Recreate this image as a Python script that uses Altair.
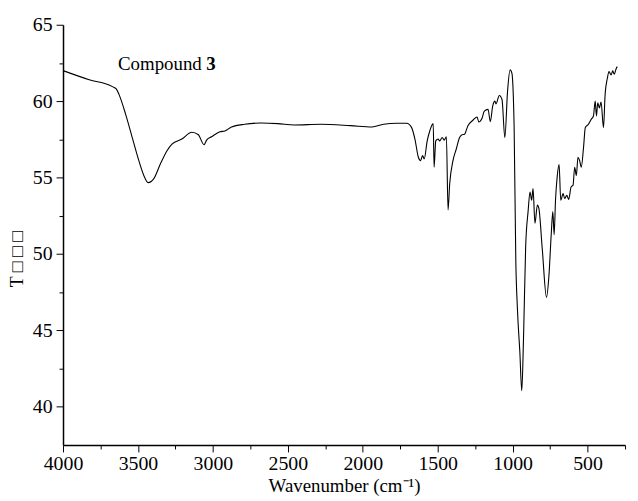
import altair as alt
import pandas as pd

wavenumber = [4000, 3825, 3670, 3645, 3626, 3582, 3538, 3494, 3461, 3432, 3394, 3350, 3306, 3273,
              3207, 3141, 3097, 3059, 3042, 3009, 2953, 2920, 2876, 2788, 2678, 2567, 2457, 2281,
              2082, 1938, 1861, 1773, 1707, 1674, 1652, 1629, 1614, 1601, 1590, 1570, 1553, 1530,
              1524, 1513, 1497, 1487, 1470, 1457, 1442, 1431, 1420, 1398, 1376, 1354, 1338, 1321,
              1299, 1265, 1237, 1226, 1204, 1189, 1164, 1149, 1133, 1118, 1111, 1089, 1071, 1052,
              1034, 1017, 1005, 990, 979, 968, 952, 939, 928, 913, 897, 884, 873, 864, 851, 835,
              825, 802, 774, 758, 742, 732, 723, 714, 703, 690, 679, 663, 653, 639, 626, 610, 597,
              586, 575, 564, 553, 542, 527, 515, 494, 476, 461, 449, 441, 432, 421, 410, 394, 383,
              368, 357, 343, 332, 322, 310, 302]
transmittance = [62.0, 61.4, 60.95, 60.8, 60.43, 59.14, 57.62, 56.11, 55.14, 54.67, 54.93, 55.9, 56.76, 57.19,
                 57.52, 57.97, 57.8, 57.15, 57.45, 57.67, 58.0, 58.05, 58.31, 58.49, 58.57, 58.53, 58.44, 58.49,
                 58.4, 58.31, 58.49, 58.55, 58.55, 58.27, 57.52, 56.33, 56.11, 56.44, 56.22, 57.4, 58.05, 58.53,
                 55.68, 57.4, 57.52, 57.4, 57.62, 57.45, 57.67, 52.88, 54.6, 56.11, 56.87, 57.62, 57.8, 57.84,
                 58.38, 58.75, 58.96, 58.64, 58.88, 59.35, 59.46, 58.66, 59.67, 60.0, 59.82, 60.37, 60.11, 57.62,
                 60.64, 62.05, 61.83, 58.27, 49.64, 46.4, 43.6, 41.05, 44.25, 50.5, 52.77, 54.06, 53.52, 54.28, 52.02, 53.2,
                 52.99, 50.29, 47.16, 48.56, 51.37, 52.77, 51.26, 53.52, 55.03, 55.85, 53.52, 53.96, 53.63, 53.84, 53.57, 54.39, 54.5,
                 55.68, 55.14, 56.33, 56.11, 55.68, 56.97, 58.27, 58.49, 58.81, 59.03, 60.0, 59.03, 59.89, 59.56, 59.95, 58.27, 60.43,
                 61.5, 61.94, 61.72, 61.98, 61.76, 62.11, 62.26]

x_major = [4000, 3500, 3000, 2500, 2000, 1500, 1000, 500]
x_minor = [3750, 3250, 2750, 2250, 1750, 1250, 750, 250]
y_major = [40, 45, 50, 55, 60, 65]
y_minor = [42.5, 47.5, 52.5, 57.5, 62.5]

label_text = ["Compound"]
label_x = [3633]
label_y = [62.07]
number_text = ["3"]
number_x = [3044]
number_y = [62.07]

df = pd.DataFrame({"wn": wavenumber, "T": transmittance})
lab = pd.DataFrame({"x": label_x, "y": label_y, "t": label_text})
num = pd.DataFrame({"x": number_x, "y": number_y, "t": number_text})

FONT = "Liberation Serif"
xscale = alt.Scale(domain=[250, 4000], reverse=True, nice=False, zero=False)
yscale = alt.Scale(domain=[37.5, 65], nice=False, zero=False)

main = alt.Chart(df).mark_line(color="black", strokeWidth=1.1, interpolate="monotone").encode(
    x=alt.X("wn:Q", scale=xscale, axis=alt.Axis(
        values=x_major, format="d", title="Wavenumber (cm⁻¹)", orient="bottom", grid=False,
        tickSize=7, labelPadding=2, titleY=47, titleBaseline="alphabetic", titleFontSize=19,
        titleFontWeight="normal", labelFlush=False)),
    y=alt.Y("T:Q", scale=yscale, axis=alt.Axis(
        values=y_major, format="d", title="T □ □ □", orient="left", grid=False,
        tickSize=7, labelPadding=4, titleX=-46, titleY=236, titleAngle=270, titleAlign="center",
        titleBaseline="middle", titleFontSize=18, titleFontWeight="normal", labelFlush=False)),
)

minor = alt.Chart(df).mark_line(opacity=0).encode(
    x=alt.X("wn:Q", scale=xscale, axis=alt.Axis(
        values=x_minor, labels=False, domain=False, tickSize=4, title=None, orient="bottom", grid=False)),
    y=alt.Y("T:Q", scale=yscale, axis=alt.Axis(
        values=y_minor, labels=False, domain=False, tickSize=4, title=None, orient="left", grid=False)),
)

t1 = alt.Chart(lab).mark_text(align="left", baseline="alphabetic", font=FONT, fontSize=19, color="black").encode(
    x=alt.X("x:Q", scale=xscale, axis=None), y=alt.Y("y:Q", scale=yscale, axis=None), text="t:N")
t2 = alt.Chart(num).mark_text(align="left", baseline="alphabetic", font=FONT, fontSize=19, fontWeight="bold",
                              color="black").encode(
    x=alt.X("x:Q", scale=xscale, axis=None), y=alt.Y("y:Q", scale=yscale, axis=None), text="t:N")

chart = alt.layer(minor, main, t1, t2).resolve_axis(x="independent", y="independent").properties(
    width=567, height=424,
    autosize=alt.AutoSizeParams(type="none"),
    padding={"left": 55.5, "top": 14.7, "right": 5, "bottom": 60},
).configure_view(stroke=None).configure_axis(
    labelFont=FONT, titleFont=FONT, labelFontSize=20, labelColor="black", titleColor="black",
    tickColor="black", domainColor="black", tickWidth=1, domainWidth=1.5,
)

chart.save("out.html", embed_options={"renderer": "svg", "actions": False})
